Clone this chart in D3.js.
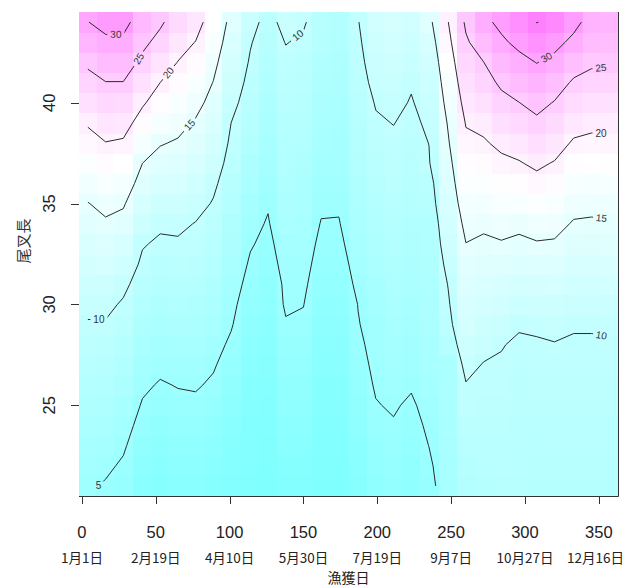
<!DOCTYPE html>
<html>
<head>
<meta charset="utf-8">
<script src="https://cdn.jsdelivr.net/npm/d3@7"></script>
<style>
  html, body { margin: 0; padding: 0; background: #ffffff; }
  svg { display: block; }
</style>
</head>
<body>
<svg id="chart" width="625" height="587"></svg>
<script>
// Catch day (centre of each day bin, days counted from 1 January)
const catchDay = [4, 16, 28, 41, 53, 65, 77, 89, 101, 114, 126, 138, 150, 162, 174,
                  187, 199, 211, 223, 235, 248, 260, 272, 284, 296, 308, 320, 333, 345, 357];
// Fork length classes (cm)
const forkLength = [21, 22, 23, 24, 25, 26, 27, 28, 29, 30, 31, 32, 33, 34, 35, 36,
                    37, 38, 39, 40, 41, 42, 43, 44];

// Surface values, one array per day bin, ordered by fork length 21 .. 44
const day004 = [5.3,5.9,6.4,7.0,7.6,8.1,8.7,9.3,9.8,10.6,11.5,12.4,13.2,14.1,14.9,16.3,17.6,18.9,20.3,22.1,23.8,25.6,27.8,29.9];
const day016 = [4.8,5.4,6.1,6.7,7.3,7.9,8.5,9.1,9.8,10.6,11.6,12.6,13.6,14.6,15.8,17.2,18.6,19.9,21.6,23.3,24.9,27.0,29.1,31.4];
const day028 = [4.2,4.7,5.3,5.9,6.5,7.2,7.8,8.4,9.1,9.7,10.6,11.8,12.9,14.1,15.3,16.7,18.1,19.6,21.3,23.1,24.9,27.0,29.0,31.5];
const day041 = [2.4,3.0,3.6,4.2,4.8,5.4,6.1,6.8,7.4,8.1,8.8,9.5,10.2,11.4,12.6,13.8,15.0,16.8,18.6,20.4,22.2,24.1,25.9,27.5];
const day053 = [2.0,2.5,3.0,3.6,4.2,4.8,5.5,6.2,6.8,7.5,8.2,8.9,9.6,10.4,11.6,12.8,13.9,15.2,16.8,18.4,20.0,21.9,23.8,25.6];
const day065 = [2.5,3.0,3.5,4.0,4.5,5.1,5.8,6.4,7.1,7.7,8.4,9.0,9.7,10.5,11.5,12.6,13.6,14.7,15.9,17.2,18.6,19.9,21.4,23.0];
const day077 = [2.4,2.9,3.4,4.0,4.6,5.2,5.8,6.4,7.0,7.6,8.2,8.8,9.4,9.9,10.9,11.8,12.8,13.8,14.7,15.9,17.2,18.6,19.9,21.5];
const day089 = [2.0,2.5,3.0,3.5,4.1,4.7,5.2,5.8,6.4,6.9,7.5,8.1,8.6,9.2,9.8,10.5,11.4,12.3,13.2,14.0,14.9,15.9,17.0,18.0];
const day101 = [1.5,1.8,2.1,2.5,3.0,3.5,4.1,4.6,5.2,5.6,6.1,6.6,7.1,7.6,8.1,8.5,9.0,9.5,10.0,10.8,11.6,12.4,13.2,14.0];
const day114 = [1.3,1.4,1.5,1.6,1.8,2.0,2.3,2.7,3.2,3.7,4.2,4.7,5.2,5.7,6.2,6.7,7.2,7.7,8.2,8.7,9.2,9.7,10.2,11.0];
const day126 = [1.1,1.2,1.3,1.4,1.6,1.8,2.1,2.4,2.8,3.2,3.6,4.0,4.4,4.8,5.2,5.6,6.1,6.5,6.9,7.3,7.7,8.1,8.5,9.0];
const day138 = [1.7,2.0,2.4,2.8,3.2,3.6,4.0,4.4,4.8,5.3,5.4,5.8,6.2,6.8,7.1,7.5,7.8,8.1,8.4,8.8,9.1,9.4,10.1,11.0];
const day150 = [1.7,2.0,2.3,2.7,3.1,3.5,3.9,4.3,4.7,5.05,5.4,5.75,6.05,6.3,6.7,7.0,7.4,7.8,8.1,8.5,8.9,9.2,9.6,10.3];
const day162 = [1.2,1.3,1.4,1.6,1.8,2.0,2.3,2.6,2.9,3.3,3.7,4.1,4.5,4.9,5.3,5.7,6.0,6.4,6.8,7.1,7.5,7.8,8.2,8.5];
const day174 = [1.2,1.3,1.4,1.6,1.8,2.0,2.3,2.6,2.9,3.25,3.65,4.05,4.45,4.85,5.3,5.6,5.9,6.2,6.5,6.8,7.1,7.4,7.7,8.0];
const day187 = [2.1,2.4,2.8,3.2,3.6,4.0,4.3,4.6,4.9,5.05,5.5,5.9,6.35,7.0,7.3,7.6,7.9,8.2,8.5,8.7,9.0,9.3,9.6,9.9];
const day199 = [3.3,3.7,4.1,4.5,4.9,5.2,5.45,5.65,5.75,6.15,6.55,6.95,7.35,7.75,8.15,8.55,8.95,9.35,9.75,10.15,10.7,11.2,11.6,12.0];
const day211 = [3.7,4.1,4.5,4.85,5.2,5.55,5.9,6.25,6.6,6.9,7.25,7.6,7.95,8.3,8.65,9.0,9.3,9.65,10.05,10.55,11.0,11.5,12.0,12.5];
const day223 = [3.2,3.5,3.9,4.3,4.7,5.2,5.55,5.85,6.2,6.5,6.85,7.2,7.5,7.85,8.2,8.5,8.85,9.2,9.5,9.85,10.2,10.7,11.3,12.0];
const day235 = [4.2,4.6,5.03,5.36,5.7,6.0,6.3,6.6,6.85,7.1,7.3,7.45,7.75,7.95,8.5,8.9,9.8,10.03,10.4,10.8,11.3,12.0,12.9,14.0];
const day248 = [6.5,6.5,6.6,6.7,6.8,6.9,7.0,8.5,9.3,9.7,10.1,10.8,11.5,12.1,12.8,13.4,14.0,14.7,15.3,16.2,17.1,18.0,19.0,19.95];
const day260 = [8.0,8.4,8.8,9.2,9.5,9.85,10.8,11.5,12.2,12.9,13.6,14.25,14.95,15.8,16.7,17.5,18.4,19.3,20.2,21.3,22.35,23.4,24.5,25.6];
const day272 = [8.4,8.6,8.85,9.1,9.35,9.6,9.85,10.85,11.6,12.35,13.1,13.85,14.6,15.4,16.5,17.6,18.6,19.7,20.7,22.3,23.65,24.95,27.0,29.0];
const day284 = [8.5,8.7,8.9,9.1,9.3,9.55,9.8,10.1,11.05,12.0,12.9,13.85,14.8,15.9,17.1,18.3,19.4,20.6,22.4,24.0,25.6,27.5,29.3,31.0];
const day296 = [8.5,8.6,8.7,8.85,9.0,9.2,9.4,9.7,10.2,11.25,12.3,13.4,14.45,15.6,17.0,18.4,19.8,21.2,23.2,24.95,26.9,28.8,31.0,33.0];
const day308 = [8.3,8.45,8.6,8.8,9.0,9.25,9.5,9.8,10.3,11.4,12.5,13.65,14.8,16.15,17.6,19.1,20.55,22.5,24.3,26.1,28.1,30.1,32.6,35.1];
const day320 = [8.3,8.5,8.7,8.9,9.1,9.35,9.6,9.9,10.6,11.6,12.65,13.7,14.7,15.9,17.2,18.5,19.8,21.4,23.1,24.8,26.75,28.8,31.3,34.0];
const day333 = [8.3,8.5,8.7,8.9,9.1,9.3,9.5,9.75,10.2,11.1,12.0,12.9,13.8,14.75,15.9,17.1,18.4,19.6,21.2,22.85,24.5,26.65,28.95,31.3];
const day345 = [8.3,8.5,8.7,8.9,9.1,9.3,9.5,9.75,10.2,11.1,12.0,12.9,13.8,14.65,15.7,16.9,18.1,19.3,20.7,22.3,23.9,25.5,26.9,28.3];
const day357 = [8.3,8.5,8.7,8.9,9.1,9.3,9.55,9.8,10.3,11.2,12.1,13.0,13.9,14.75,15.8,17.0,18.2,19.4,20.6,22.2,23.8,25.35,26.7,28.0];

const surfaceColumns = [day004, day016, day028, day041, day053, day065, day077, day089, day101, day114,
                        day126, day138, day150, day162, day174, day187, day199, day211, day223, day235,
                        day248, day260, day272, day284, day296, day308, day320, day333, day345, day357];

const contourLevels = [5, 10, 15, 20, 25, 30, 35];

const dayTicks = [0, 50, 100, 150, 200, 250, 300, 350];
const dateLabels = ["1月1日", "2月19日", "4月10日", "5月30日", "7月19日", "9月7日", "10月27日", "12月16日"];
const lengthTicks = [25, 30, 35, 40];

// Where each contour value is written along its line (day, fork length)
const labelLevels = [30, 25, 20, 15, 10, 5, 10, 30, 25, 20, 15, 10];
const labelDays   = [23.0, 38.0, 58.3, 74.5, 11.5, 10.5, 147.7, 314.9, 351.5, 351.5, 352.0, 351.5];
const labelLens   = [43.2, 42.2, 41.5, 38.8, 29.4, 20.95, 43.2, 42.2, 41.7, 38.55, 34.4, 28.35];
const labelUpright = [false, false, false, false, false, true, false, false, false, false, false, false];

const svg = d3.select("#chart");
const nx = catchDay.length, ny = forkLength.length;

// Cell edges half-way between bin centres
const dayEdges = [catchDay[0] - (catchDay[1] - catchDay[0]) / 2];
for (let i = 0; i < nx - 1; i++) dayEdges.push((catchDay[i] + catchDay[i + 1]) / 2);
dayEdges.push(catchDay[nx - 1] + (catchDay[nx - 1] - catchDay[nx - 2]) / 2);
const lenEdges = [forkLength[0] - 0.5];
for (let j = 0; j < ny - 1; j++) lenEdges.push((forkLength[j] + forkLength[j + 1]) / 2);
lenEdges.push(forkLength[ny - 1] + 0.5);

const plot = { left: 79, right: 618, top: 12, bottom: 496 };
const x = d3.scaleLinear().domain([dayEdges[0], dayEdges[nx]]).range([plot.left, plot.right]);
const y = d3.scaleLinear().domain([lenEdges[0], lenEdges[ny]]).range([plot.bottom, plot.top]);

// Grid in row-major order for d3.contours (row 0 = shortest fish)
const values = new Array(nx * ny);
for (let j = 0; j < ny; j++) for (let i = 0; i < nx; i++) values[i + j * nx] = surfaceColumns[i][j];

// Cyan - white - magenta ramp (cm.colors)
function cmRamp(t) {
  if (t < 0.5) { const s = 0.5 * (1 - 2 * t); return d3.rgb(255 * (1 - s), 255, 255).toString(); }
  const s = 0.5 * (2 * t - 1);
  return d3.rgb(255, 255 * (1 - s), 255).toString();
}
const colour = d3.scaleSequential(cmRamp).domain(d3.extent(values));

// Image cells
const cells = [];
for (let i = 0; i < nx; i++) for (let j = 0; j < ny; j++) cells.push({ i, j, v: surfaceColumns[i][j] });
svg.append("g").attr("shape-rendering", "crispEdges")
  .selectAll("rect").data(cells).join("rect")
  .attr("x", d => x(dayEdges[d.i]))
  .attr("y", d => y(lenEdges[d.j + 1]))
  .attr("width", d => x(dayEdges[d.i + 1]) - x(dayEdges[d.i]) + 0.6)
  .attr("height", d => y(lenEdges[d.j]) - y(lenEdges[d.j + 1]) + 0.6)
  .attr("fill", d => colour(d.v));

// Contour lines: trace iso-bands with d3.contours, then keep only the
// interior crossings and interpolate them between neighbouring samples.
function lerpArr(arr, t) {
  const i = Math.max(0, Math.min(arr.length - 2, Math.floor(t)));
  return arr[i] + (t - i) * (arr[i + 1] - arr[i]);
}
function ringToLines(ring, level) {
  const pts = ring.slice(0, ring.length - 1);
  const mapped = pts.map(([px, py]) => {
    if (px <= 0 || px >= nx || py <= 0 || py >= ny) return null;
    if (Number.isInteger(px)) {
      const j = Math.floor(py);
      const v0 = values[(px - 1) + j * nx], v1 = values[px + j * nx];
      return [px - 1 + (level - v0) / (v1 - v0), j];
    }
    const i = Math.floor(px);
    const v0 = values[i + (py - 1) * nx], v1 = values[i + py * nx];
    return [i, py - 1 + (level - v0) / (v1 - v0)];
  });
  const n = mapped.length;
  const start = mapped.findIndex(p => p === null);
  if (start < 0) return [mapped.concat([mapped[0]])];
  const lines = [];
  let cur = [];
  for (let k = 1; k <= n; k++) {
    const p = mapped[(start + k) % n];
    if (p === null) { if (cur.length > 1) lines.push(cur); cur = []; }
    else cur.push(p);
  }
  if (cur.length > 1) lines.push(cur);
  return lines;
}

const bands = d3.contours().size([nx, ny]).smooth(false).thresholds(contourLevels)(values);
const contourLines = [];
bands.forEach(band => {
  band.coordinates.forEach(polygon => polygon.forEach(ring => {
    ringToLines(ring, band.value).forEach(line => {
      contourLines.push({
        level: band.value,
        pts: line.map(([gi, gj]) => [x(lerpArr(catchDay, gi)), y(lerpArr(forkLength, gj))])
      });
    });
  }));
});

// Label placement along the lines
function nearestOnLines(lines, ax, ay) {
  let best = null;
  lines.forEach(line => {
    let s = 0;
    for (let k = 0; k < line.pts.length - 1; k++) {
      const [x0, y0] = line.pts[k], [x1, y1] = line.pts[k + 1];
      const dx = x1 - x0, dy = y1 - y0, L = Math.hypot(dx, dy);
      let t = L > 0 ? ((ax - x0) * dx + (ay - y0) * dy) / (L * L) : 0;
      t = Math.max(0, Math.min(1, t));
      const qx = x0 + t * dx, qy = y0 + t * dy, d = Math.hypot(qx - ax, qy - ay);
      if (!best || d < best.d) best = { d, line, s: s + t * L, x: qx, y: qy };
      s += L;
    }
  });
  return best;
}
function pointAt(pts, s) {
  let acc = 0;
  if (s <= 0) return pts[0];
  for (let k = 0; k < pts.length - 1; k++) {
    const [x0, y0] = pts[k], [x1, y1] = pts[k + 1];
    const L = Math.hypot(x1 - x0, y1 - y0);
    if (acc + L >= s) { const t = L > 0 ? (s - acc) / L : 0; return [x0 + t * (x1 - x0), y0 + t * (y1 - y0)]; }
    acc += L;
  }
  return pts[pts.length - 1];
}

const labelLayer = svg.append("g")
  .attr("font-family", "'Liberation Sans', Arial, sans-serif")
  .attr("font-size", 10)
  .attr("fill", "#333");
const gaps = [];
labelLevels.forEach((level, k) => {
  const ax = x(labelDays[k]), ay = y(labelLens[k]);
  const hit = nearestOnLines(contourLines.filter(c => c.level === level), ax, ay);
  if (!hit) return;
  const t = labelLayer.append("text")
    .attr("text-anchor", "middle")
    .attr("dominant-baseline", "central")
    .text(level);
  const w = t.node().getComputedTextLength();
  let angle = 0;
  if (!labelUpright[k]) {
    const p1 = pointAt(hit.line.pts, hit.s - w / 2 - 1), p2 = pointAt(hit.line.pts, hit.s + w / 2 + 1);
    angle = Math.atan2(p2[1] - p1[1], p2[0] - p1[0]) * 180 / Math.PI;
    if (angle > 90) angle -= 180;
    if (angle < -90) angle += 180;
  }
  t.attr("transform", `translate(${hit.x},${hit.y}) rotate(${angle})`);
  gaps.push({ x: hit.x, y: hit.y, w: w + 6, h: 9, angle });
});

const mask = svg.append("defs").append("mask").attr("id", "labelGaps")
  .attr("maskUnits", "userSpaceOnUse").attr("x", 0).attr("y", 0).attr("width", 625).attr("height", 587);
mask.append("rect").attr("width", 625).attr("height", 587).attr("fill", "white");
mask.selectAll("rect.gap").data(gaps).join("rect").attr("class", "gap")
  .attr("x", d => -d.w / 2).attr("y", d => -d.h / 2).attr("width", d => d.w).attr("height", d => d.h)
  .attr("transform", d => `translate(${d.x},${d.y}) rotate(${d.angle})`)
  .attr("fill", "black");

svg.insert("g", () => labelLayer.node())
  .attr("mask", "url(#labelGaps)")
  .selectAll("path").data(contourLines).join("path")
  .attr("d", d => d3.line()(d.pts))
  .attr("fill", "none")
  .attr("stroke", "#2a2a2a")
  .attr("stroke-width", 1)
  .attr("stroke-linejoin", "round");

// Frame
svg.append("path")
  .attr("d", `M${plot.left},${plot.bottom + 0.5}H${plot.right + 0.5}V${plot.top}`)
  .attr("fill", "none").attr("stroke", "#333").attr("stroke-width", 1);

// X axis
const xAxis = svg.append("g").attr("font-family", "'Liberation Sans', Arial, sans-serif").attr("fill", "#222");
xAxis.selectAll("line").data(dayTicks).join("line")
  .attr("x1", d => Math.round(x(d)) + 0.5).attr("x2", d => Math.round(x(d)) + 0.5)
  .attr("y1", plot.bottom).attr("y2", plot.bottom + 8)
  .attr("stroke", "#333");
xAxis.selectAll("text.num").data(dayTicks).join("text").attr("class", "num")
  .attr("x", d => x(d)).attr("y", 538)
  .attr("text-anchor", "middle").attr("font-size", 16.5)
  .text(d => d);
const dates = xAxis.selectAll("text.date").data(dateLabels).join("text").attr("class", "date")
  .attr("x", (d, i) => x(dayTicks[i])).attr("y", 562.5)
  .attr("text-anchor", "middle").attr("font-size", 13.5)
  .attr("font-family", "'Noto Sans CJK JP', sans-serif")
  .text(d => d);
// keep the last date inside the page
dates.each(function () {
  const b = this.getBBox();
  if (b.x + b.width > 624) this.setAttribute("x", +this.getAttribute("x") - (b.x + b.width - 624));
});
svg.append("text")
  .attr("x", (plot.left + plot.right) / 2).attr("y", 583)
  .attr("text-anchor", "middle").attr("font-size", 14)
  .attr("font-family", "'Noto Sans CJK JP', sans-serif").attr("fill", "#222")
  .text("漁獲日");

// Y axis
const yAxis = svg.append("g").attr("font-family", "'Liberation Sans', Arial, sans-serif").attr("fill", "#222");
yAxis.selectAll("line").data(lengthTicks).join("line")
  .attr("x1", plot.left - 8).attr("x2", plot.left)
  .attr("y1", d => Math.round(y(d)) + 0.5).attr("y2", d => Math.round(y(d)) + 0.5)
  .attr("stroke", "#333");
yAxis.selectAll("text").data(lengthTicks).join("text")
  .attr("transform", d => `translate(55,${y(d)}) rotate(-90)`)
  .attr("text-anchor", "middle").attr("font-size", 16.5)
  .text(d => d);
svg.append("text")
  .attr("transform", "translate(29,241) rotate(-90)")
  .attr("text-anchor", "middle").attr("font-size", 15)
  .attr("font-family", "'Noto Sans CJK JP', sans-serif").attr("fill", "#333")
  .text("尾叉長");
</script>
</body>
</html>
